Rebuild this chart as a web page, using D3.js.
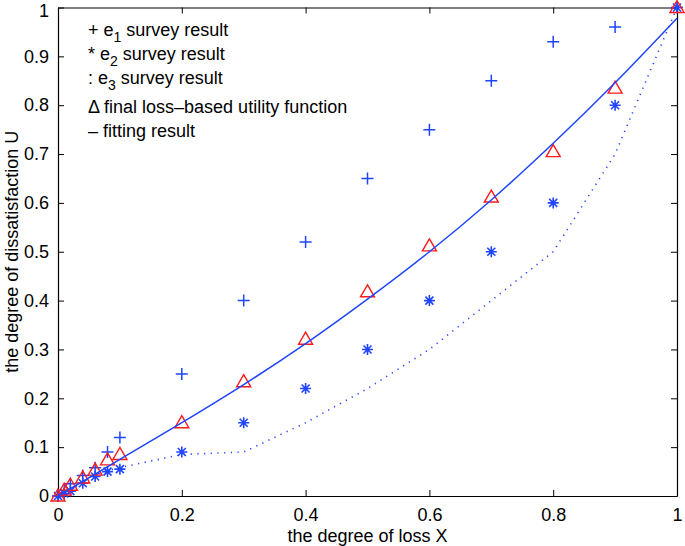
<!DOCTYPE html>
<meta charset="utf-8">
<title>loss utility</title>
<style>
  body { margin: 0; background: #fff; }
  text { font-family: "Liberation Sans", Arial, sans-serif; font-size: 18px; fill: #000; }
</style>
<body>
<script src="https://cdn.jsdelivr.net/npm/d3@7"></script>
<script>

// degree of loss X
var xs = [0, 0.01, 0.02, 0.04, 0.06, 0.08, 0.1, 0.2, 0.3, 0.4, 0.5, 0.6, 0.7, 0.8, 0.9, 1];
// e1 survey (+)
var e1 = [0, 0.012, 0.025, 0.042, 0.058, 0.09, 0.12, 0.25, 0.40, 0.52, 0.65, 0.75, 0.85, 0.93, 0.96, 1];
// e2 survey (*)
var e2 = [0, 0.005, 0.01, 0.026, 0.04, 0.05, 0.055, 0.09, 0.15, 0.22, 0.30, 0.40, 0.50, 0.60, 0.80, 1];
// e3 survey (dotted)
var e3 = [0, 0.005, 0.012, 0.028, 0.042, 0.052, 0.058, 0.085, 0.09, 0.15, 0.22, 0.30, 0.40, 0.50, 0.70, 1];
// final loss-based utility (triangles)
var fin = [0, 0.012, 0.022, 0.037, 0.053, 0.074, 0.085, 0.15, 0.234, 0.321, 0.418, 0.512, 0.612, 0.705, 0.835, 1];
// fitting result (solid)
var fitX = [0, 0.1, 0.2, 0.3, 0.4, 0.5, 0.6, 0.7, 0.8, 0.9, 1];
var fitU = [0, 0.075, 0.150, 0.228, 0.312, 0.403, 0.500, 0.606, 0.722, 0.846, 0.978];

var xTicks = [0, 0.2, 0.4, 0.6, 0.8, 1];
var yTicks = [0, 0.1, 0.2, 0.3, 0.4, 0.5, 0.6, 0.7, 0.8, 0.9, 1];

var W = 685, H = 546;
var pL = 58, pR = 677, pT = 7.5, pB = 496;
var blue = '#1f45ff', red = '#ff1a1a';

var svg = d3.select('body').append('svg').attr('width', W).attr('height', H);

var x = d3.scaleLinear().domain([0, 1]).range([pL, pR]);
var y = d3.scaleLinear().domain([0, 1]).range([pB, pT]);

var fmt = function(d) { return d === 0 || d === 1 ? String(d) : d3.format('.1f')(d); };

// axes, MATLAB style box with inward ticks
svg.append('g').attr('transform', 'translate(0,' + pB + ')')
  .call(d3.axisBottom(x).tickValues(xTicks).tickFormat(fmt).tickSizeInner(-6).tickSizeOuter(0).tickPadding(12));
svg.append('g').attr('transform', 'translate(0,' + pT + ')')
  .call(d3.axisTop(x).tickValues(xTicks).tickFormat('').tickSizeInner(-6).tickSizeOuter(0));
var yAxis = svg.append('g').attr('transform', 'translate(' + pL + ',0)')
  .call(d3.axisLeft(y).tickValues(yTicks).tickFormat(fmt).tickSizeInner(-6).tickSizeOuter(0).tickPadding(9));
svg.append('g').attr('transform', 'translate(' + pR + ',0)')
  .call(d3.axisRight(y).tickValues(yTicks).tickFormat('').tickSizeInner(-6).tickSizeOuter(0));
svg.selectAll('.domain').attr('stroke', '#000').attr('stroke-width', 1.2);
svg.selectAll('.tick line').attr('stroke', '#000');
svg.selectAll('.tick text').style('font-size', '18px').attr('fill', '#000')
  .style('font-family', '"Liberation Sans", Arial, sans-serif');
// keep the top "1" inside the window
yAxis.selectAll('.tick text').filter(function(d) { return d === 1; }).attr('y', 3);

svg.append('text').attr('x', (pL + pR) / 2).attr('y', 542)
  .attr('text-anchor', 'middle').text('the degree of loss X');
svg.append('text').attr('transform', 'translate(18,' + ((pT + pB) / 2) + ') rotate(-90)')
  .attr('text-anchor', 'middle').text('the degree of dissatisfaction U');

var pts = function(vals, xv) {
  return vals.map(function(v, i) { return [xv[i], v]; });
};
var line = d3.line().x(function(d) { return x(d[0]); }).y(function(d) { return y(d[1]); });

// e1 plus
svg.append('g').selectAll('path').data(pts(e1, xs)).enter().append('path')
  .attr('d', function(d) {
    var cx = x(d[0]), cy = y(d[1]), r = 6;
    return 'M' + (cx - r) + ',' + cy + 'H' + (cx + r) + 'M' + cx + ',' + (cy - r) + 'V' + (cy + r);
  })
  .attr('stroke', blue).attr('stroke-width', 1.5).attr('fill', 'none');

// e2 asterisk
svg.append('g').selectAll('path').data(pts(e2, xs)).enter().append('path')
  .attr('d', function(d) {
    var cx = x(d[0]), cy = y(d[1]), r = 5.5, q = 4;
    return 'M' + (cx - r) + ',' + cy + 'H' + (cx + r) +
      'M' + cx + ',' + (cy - r) + 'V' + (cy + r) +
      'M' + (cx - q) + ',' + (cy - q) + 'L' + (cx + q) + ',' + (cy + q) +
      'M' + (cx - q) + ',' + (cy + q) + 'L' + (cx + q) + ',' + (cy - q);
  })
  .attr('stroke', blue).attr('stroke-width', 1.6).attr('fill', 'none');

// e3 dotted line
svg.append('path').datum(pts(e3, xs)).attr('d', line)
  .attr('fill', 'none').attr('stroke', blue).attr('stroke-width', 1.6)
  .attr('stroke-dasharray', '1.2,5.5').attr('stroke-linecap', 'butt');

// final utility triangles
svg.append('g').selectAll('path').data(pts(fin, xs)).enter().append('path')
  .attr('d', function(d) {
    var cx = x(d[0]), cy = y(d[1]);
    return 'M' + cx + ',' + (cy - 7) + 'L' + (cx + 7) + ',' + (cy + 5) + 'L' + (cx - 7) + ',' + (cy + 5) + 'Z';
  })
  .attr('stroke', red).attr('stroke-width', 1.4).attr('fill', 'none');

// fitting curve
svg.append('path').datum(pts(fitU, fitX)).attr('d', line.curve(d3.curveCatmullRom))
  .attr('fill', 'none').attr('stroke', blue).attr('stroke-width', 1.5);

// legend text annotation
var legend = [
  ['+ e', '1', ' survey result'],
  ['* e', '2', ' survey result'],
  [': e', '3', ' survey result'],
  ['\u0394 final loss\u2013based utility function', '', ''],
  ['\u2013 fitting result', '', '']
];
var ly = [36, 60, 84, 113, 137];
legend.forEach(function(l, i) {
  var t = svg.append('text').attr('x', 88).attr('y', ly[i]);
  t.append('tspan').text(l[0]);
  if (l[1]) {
    t.append('tspan').attr('dy', 6).style('font-size', '14px').text(l[1]);
    t.append('tspan').attr('dy', -6).text(l[2]);
  }
});

</script>
</body>
